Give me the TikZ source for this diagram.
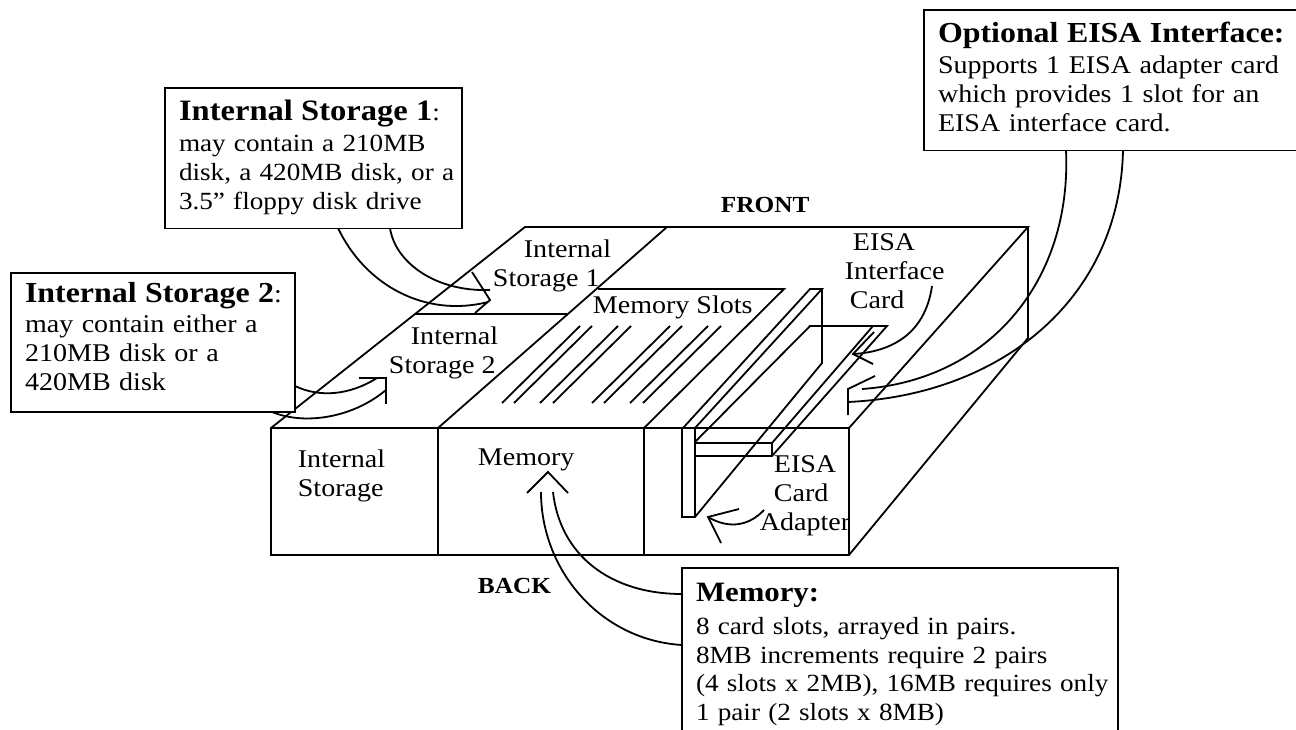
\documentclass[tikz,border=0pt]{standalone}
\usepackage{fontspec}
\setmainfont{Liberation Serif}[FakeStretch=1.1]
\usetikzlibrary{positioning}
\newcommand{\boxend}[1]{\rule[-#1]{0pt}{#1}}
\newcommand{\boxhead}[2][29]{\mbox{\fontsize{#1}{29}\selectfont\bfseries #2}}
\tikzset{
	body/.style={line width=1.8pt},
	box/.style={draw,fill=white,rectangle,align=left,anchor=north west,outer sep=0pt,inner xsep=14pt,line width=1.8pt,font=\fontsize{25.5}{29}\selectfont},
	lab/.style={align=left,anchor=base west,inner sep=0pt,font=\fontsize{25.5}{29}\selectfont},
	side/.style={anchor=base west,inner sep=0pt,font=\fontsize{23}{23}\selectfont\bfseries}
}

\begin{document}
\begin{tikzpicture}[x=1pt,y=-1pt,line width=1.8pt]
	\clip (0,0) rectangle (1296,730);
	% the case
	\coordinate (fl) at (271,428);
	\coordinate (fr) at (849,428);
	\coordinate (bl) at (271,555);
	\coordinate (br) at (849,555);
	\coordinate (tl) at (525,227);
	\coordinate (tr) at (1028,227);
	\coordinate (rr) at (1028,338);
	\draw[body] (fl) -- (fr) -- (br) -- (bl) -- cycle;
	\draw[body] (fl) -- (tl) -- (tr) -- (fr);
	\draw[body] (tr) -- (rr) -- (br);
	\draw[body] (438,428) -- (438,555);
	\draw[body] (644,428) -- (644,555);
	\draw[body] (438,428) -- (667,227);
	\draw[body] (415,314) -- (567,314);
	\draw[body] (598,289) -- (784,289) -- (644,428);
	% memory slots
	\foreach \xa in {502,514,540,553,592,604,630,643}
		\draw[body] (\xa,403) -- ++(78,-77);
	% adapter and card
	\coordinate (ca) at (683,428);
	\coordinate (cb) at (695,428);
	\coordinate (cc) at (810,289);
	\coordinate (cd) at (822,289);
	\coordinate (ce) at (822,363);
	\draw[body] (ca) -- (cc) -- (cd) -- (cb);
	\draw[body] (cd) -- (ce) -- (695,517) -- (682,517) -- (682,428);
	\draw[body] (695,428) -- (695,517);
	\draw[body] (695,442) -- (810,326) -- (887,326) -- (772,456) -- (695,456);
	\draw[body] (873,326) -- (772,443) -- (695,443);
	\draw[body] (772,443) -- (772,456);
	% arrow of internal storage 1
	\coordinate (onetip) at (490,300);
	\draw (338,228) .. controls (365,285) and (425,318) .. (488,302);
	\draw (390,228) .. controls (395,262) and (435,292) .. (490,290);
	\draw (472,272) -- (onetip) -- (475,313);
	% arrow of internal storage 2
	\coordinate (twotip) at (386,378);
	\draw (295,386) .. controls (320,398) and (350,395) .. (377,378);
	\draw (270,411) .. controls (300,425) and (350,420) .. (386,390);
	\draw (359,378) -- (twotip) -- (386,404);
	% arrow of memory
	\coordinate (memtip) at (548,472);
	\draw (541,492) .. controls (541,570) and (600,640) .. (682,645);
	\draw (553,492) .. controls (560,555) and (610,594) .. (682,594);
	\draw (527,493) -- (memtip) -- (568,493);
	% arrow of the optional interface
	\coordinate (opttip) at (848,389);
	\draw (1066,150) .. controls (1072,280) and (990,380) .. (862,389);
	\draw (1123,150) .. controls (1120,300) and (1000,395) .. (848,402);
	\draw (875,376) -- (opttip) -- (848,415);
	% arrow of the interface card
	\coordinate (cardtip) at (853,354);
	\draw (932,286) .. controls (925,335) and (890,352) .. (cardtip);
	\draw (873,364) -- (cardtip) -- (874,332);
	% arrow of the card adapter
	\coordinate (adtip) at (708,517);
	\draw (764,510) .. controls (750,525) and (730,530) .. (adtip);
	\draw (739,509) -- (adtip) -- (721,543);
	% boxes
	\node[box,inner ysep=12pt,text width=269pt,font=\fontsize{24.7}{29}\selectfont] (stone) at (165,88)
		{\mbox{\boxhead[29.6]{Internal Storage 1}:}\\[2pt]may contain a 210MB\\\mbox{disk, a 420MB disk, or a}\\3.5” floppy disk drive\boxend{7pt}};
	\node[box,inner ysep=9pt,text width=256pt] (sttwo) at (11,273)
		{\mbox{\boxhead{Internal Storage 2}:}\\[1pt]may contain either a\\210MB disk or a\\420MB disk\boxend{13pt}};
	\node[box,inner ysep=12pt,text width=350pt] (opt) at (924,10)
		{\boxhead{Optional EISA Interface:}\\[2pt]Supports 1 EISA adapter card\\which provides 1 slot for an\\EISA interface card.\boxend{7pt}};
	\node[box,inner ysep=15pt,text width=408pt,font=\fontsize{24.7}{28.5}\selectfont] (mem) at (682,568)
		{\boxhead[28]{Memory:}\\[5pt]8 card slots, arrayed in pairs.\\8MB increments require 2 pairs\\\mbox{(4 slots x 2MB), 16MB requires only}\\1 pair (2 slots x 8MB)\boxend{20pt}};
	% labels
	\node[side] (front) at (720,213) {FRONT};
	\node[side] (back) at (477,593) {BACK};
	\node[lab] (lone) at (492,287) {\hspace*{31pt}Internal\\Storage 1};
	\node[lab] (ltwo) at (388,373) {\hspace*{22pt}Internal\\Storage 2};
	\node[lab] (lslots) at (592,313) {Memory Slots};
	\node[lab] (lcard) at (844,308) {\hspace*{8pt}EISA\\Interface\\\hspace*{5pt}Card};
	\node[lab] (lad) at (759,530) {\hspace*{14pt}EISA\\\hspace*{14pt}Card\\Adapter};
	\node[lab] (lint) at (297,496) {Internal\\Storage};
	\node[lab] (lmem) at (477,465) {Memory};
\end{tikzpicture}
\end{document}
